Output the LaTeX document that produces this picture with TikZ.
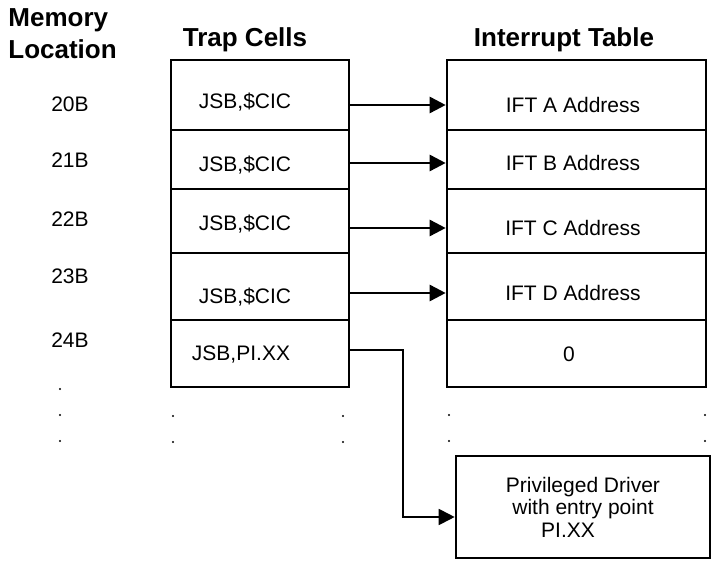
\documentclass[tikz,border=0pt]{standalone}
\usepackage{fontspec}
\setmainfont{Liberation Sans}
\usetikzlibrary{arrows.meta}

\begin{document}
\begin{tikzpicture}[x=0.5pt,y=-0.5pt]
            \tikzstyle{every node}+=[inner sep=0pt]
            \tikzstyle{head}=[font=\fontsize{13}{16}\selectfont\bfseries]
            \tikzstyle{txt}=[font=\fontsize{10.5}{11.25}\selectfont]
            \tikzstyle{trapcell}=[draw, line width=1.3pt, minimum width=89pt]
            \tikzstyle{iftcell}=[draw, line width=1.3pt, minimum width=129.5pt]
            \tikzstyle{arr}=[line width=1.3pt, -{Triangle[length=8pt,width=8pt]}]
            \tikzstyle{link}=[line width=0.9pt, -{Triangle[length=8pt,width=8pt]}]
            \useasboundingbox (0,0) rectangle (711,561);
            % headings
            \node [head, align=left, anchor=west] (memhead) at (8,34) {Memory\\Location};
            \node [head] (traphead) at (245,40) {Trap Cells};
            \node [head] (ifthead) at (564,40) {Interrupt Table};
            % memory locations
            \node [txt] (m20) at (70,104) {20B};
            \node [txt] (m21) at (70,160) {21B};
            \node [txt] (m22) at (70,219) {22B};
            \node [txt] (m23) at (70,276) {23B};
            \node [txt] (m24) at (70,340) {24B};
            % trap cells
            \node [trapcell, minimum height=35pt] (tc1) at (260,95) {};
            \node [trapcell, minimum height=29.5pt] (tc2) at (260,159.5) {};
            \node [trapcell, minimum height=32pt] (tc3) at (260,221) {};
            \node [trapcell, minimum height=33.5pt] (tc4) at (260,286.5) {};
            \node [trapcell, minimum height=33.5pt] (tc5) at (260,353.5) {};
            \node [txt] (tx1) at (245,102) {JSB,\$CIC};
            \node [txt] (tx2) at (245,165) {JSB,\$CIC};
            \node [txt] (tx3) at (245,224) {JSB,\$CIC};
            \node [txt] (tx4) at (245,297) {JSB,\$CIC};
            \node [txt] (tx5) at (241,355) {JSB,PI.XX};
            % interrupt table
            \node [iftcell, minimum height=35pt] (ic1) at (576.5,95) {};
            \node [iftcell, minimum height=29.5pt] (ic2) at (576.5,159.5) {};
            \node [iftcell, minimum height=32pt] (ic3) at (576.5,221) {};
            \node [iftcell, minimum height=33.5pt] (ic4) at (576.5,286.5) {};
            \node [iftcell, minimum height=33.5pt] (ic5) at (576.5,353.5) {};
            \node [txt] (if1) at (573,105) {IFT A Address};
            \node [txt] (if2) at (573,163) {IFT B Address};
            \node [txt] (if3) at (573,228) {IFT C Address};
            \node [txt] (if4) at (573,293) {IFT D Address};
            \node [txt] (if5) at (569,354) {0};
            % driver
            \node [draw, line width=1.3pt, minimum width=127pt, minimum height=51pt,
                   txt, align=center] (drv) at (583,507) {Privileged Driver\\with entry point\\PI.XX\hspace*{15pt}};
            % arrows
            \draw [arr] (tc1.east |- if1) -- (if1 -| ic1.west);
            \draw [arr] (tc2.east |- if2) -- (if2 -| ic2.west);
            \draw [arr] (tc3.east |- if3) -- (if3 -| ic3.west);
            \draw [arr] (tc4.east |- if4) -- (if4 -| ic4.west);
            \draw [link] ([yshift=1.75pt]tc5.east) -- ++(53,0) |- ([yshift=-5pt]drv.west);
            % dots
            \fill (60,389) circle (0.6pt);
            \fill (60,415) circle (0.6pt);
            \fill (60,441) circle (0.6pt);
            \fill (173,416) circle (0.6pt);
            \fill (173,442) circle (0.6pt);
            \fill (343,416) circle (0.6pt);
            \fill (343,442) circle (0.6pt);
            \fill (449,415) circle (0.6pt);
            \fill (449,441) circle (0.6pt);
            \fill (705,415) circle (0.6pt);
            \fill (705,441) circle (0.6pt);
\end{tikzpicture}
\end{document}
